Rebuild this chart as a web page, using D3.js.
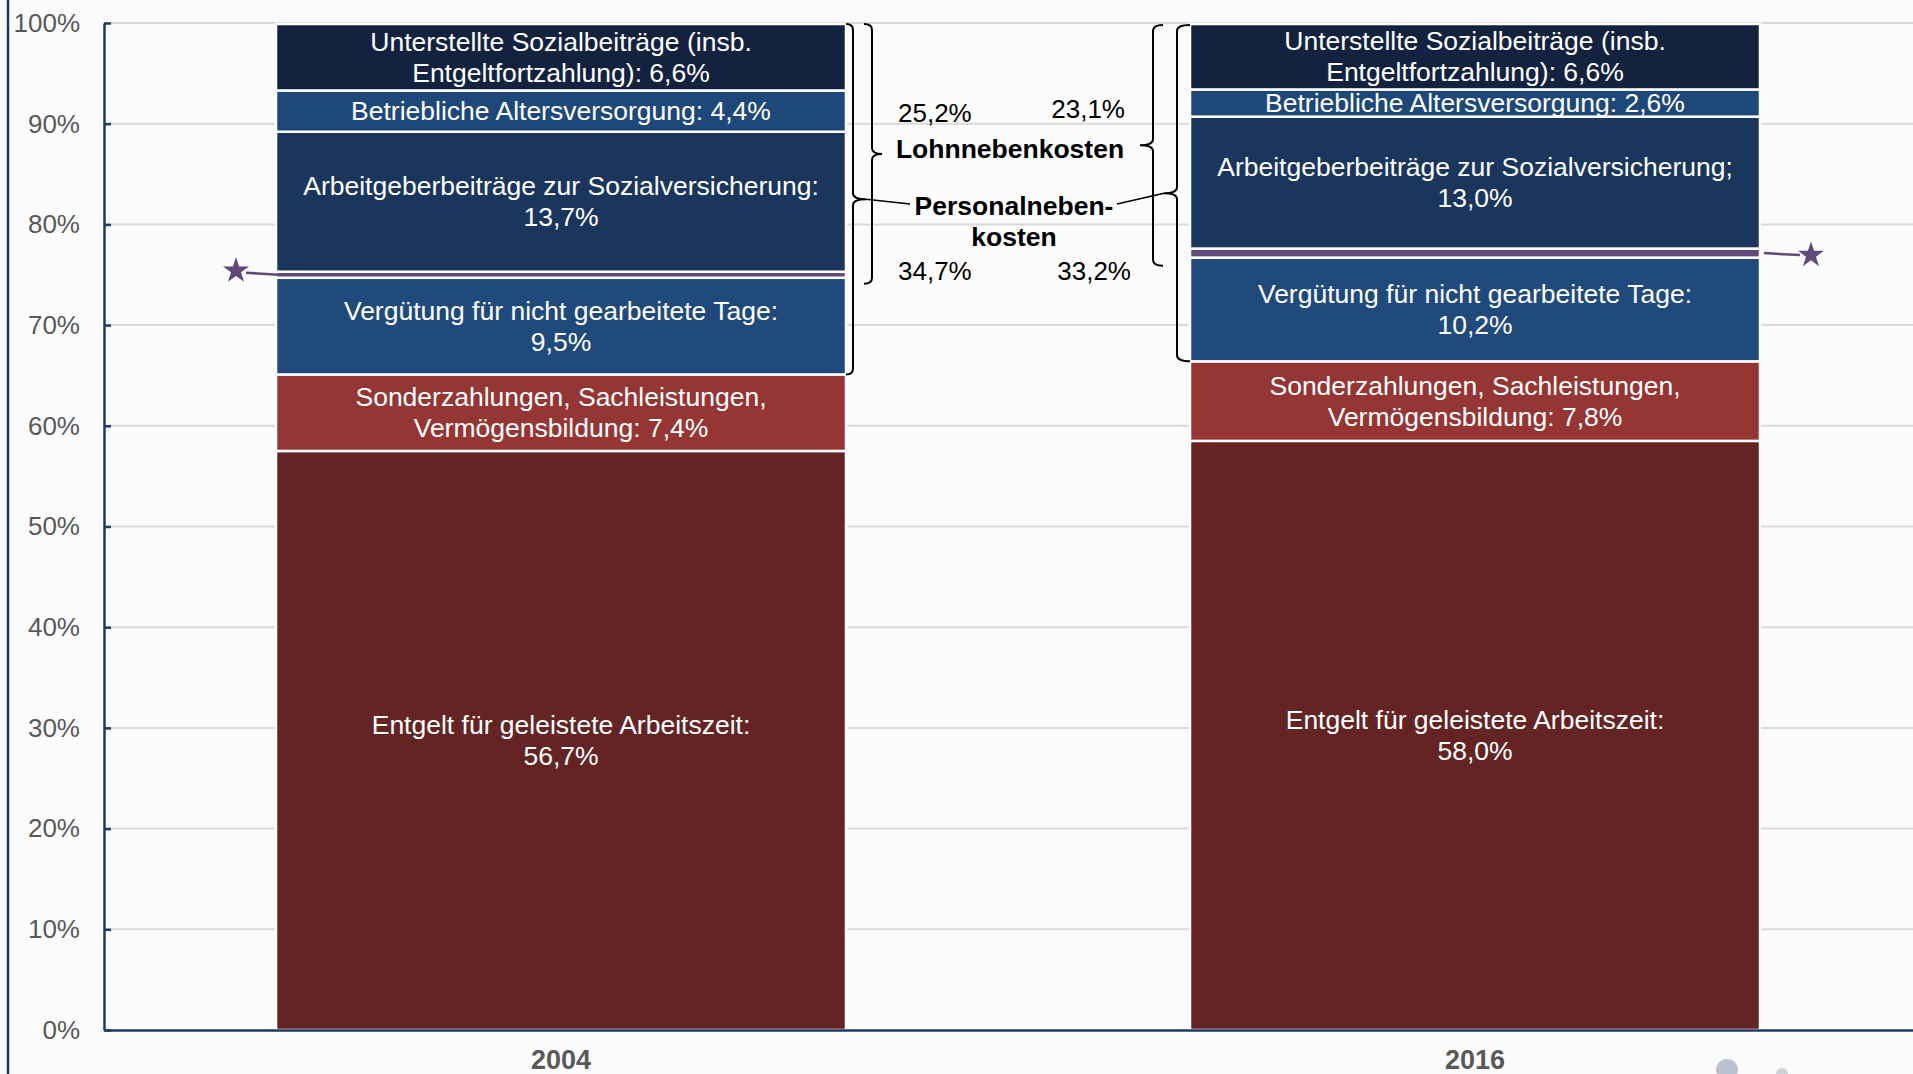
<!DOCTYPE html>
<html>
<head>
<meta charset="utf-8">
<script src="https://cdn.jsdelivr.net/npm/d3@7"></script>
<style>
  body { margin: 0; background: #fbfbfb; }
  svg { display: block; font-family: "Liberation Sans", Arial, sans-serif; }
</style>
</head>
<body>
<svg></svg>
<script>
var years = ["2004", "2016"];

// stacked from bottom to top
var parts = ["entgelt", "sonder", "verguetung", "sonstige", "arbeitgeber", "betrieblich", "unterstellt"];
var values2004 = [57.5, 7.6, 9.6, 0.6, 13.9, 4.1, 6.6];
var values2016 = [58.5, 7.9, 10.3, 0.9, 13.1, 2.7, 6.5];

var labels2004 = [
  ["Entgelt für geleistete Arbeitszeit:", "56,7%"],
  ["Sonderzahlungen, Sachleistungen,", "Vermögensbildung: 7,4%"],
  ["Vergütung für nicht gearbeitete Tage:", "9,5%"],
  [],
  ["Arbeitgeberbeiträge zur Sozialversicherung:", "13,7%"],
  ["Betriebliche Altersversorgung: 4,4%"],
  ["Unterstellte Sozialbeiträge (insb.", "Entgeltfortzahlung): 6,6%"]
];
var labels2016 = [
  ["Entgelt für geleistete Arbeitszeit:", "58,0%"],
  ["Sonderzahlungen, Sachleistungen,", "Vermögensbildung: 7,8%"],
  ["Vergütung für nicht gearbeitete Tage:", "10,2%"],
  [],
  ["Arbeitgeberbeiträge zur Sozialversicherung;", "13,0%"],
  ["Betriebliche Altersversorgung: 2,6%"],
  ["Unterstellte Sozialbeiträge (insb.", "Entgeltfortzahlung): 6,6%"]
];

var yTicks = [0, 10, 20, 30, 40, 50, 60, 70, 80, 90, 100];
var lohnNK = ["25,2%", "23,1%"];
var personalNK = ["34,7%", "33,2%"];

var colors = ["#632423", "#963634", "#214a7c", "#604a7b", "#1a365d", "#1f487a", "#13233f"];

var width = 1913;
var height = 1074;

var svg = d3.select("svg")
  .attr("width", width)
  .attr("height", height);

svg.append("rect")
  .attr("width", width)
  .attr("height", height)
  .attr("fill", "#fbfbfb");

var x = d3.scaleBand()
  .domain(years)
  .range([104, 1932])
  .paddingInner(0.3764)
  .paddingOuter(0.1882);

var y = d3.scaleLinear()
  .domain([0, 100])
  .range([1030, 23]);

var table = years.map(function(yr, i) {
  var vals = i === 0 ? values2004 : values2016;
  var row = { year: yr };
  parts.forEach(function(p, j) { row[p] = vals[j]; });
  return row;
});
var labels = [labels2004, labels2016];

var series = d3.stack().keys(parts)(table);

// outer frame line on the left
svg.append("line")
  .attr("x1", 8).attr("x2", 8)
  .attr("y1", 0).attr("y2", height)
  .attr("stroke", "#1f3864")
  .attr("stroke-width", 2.5);

// gridlines
svg.append("g")
  .selectAll("line")
  .data(yTicks.filter(function(d) { return d > 0; }))
  .enter()
  .append("line")
    .attr("x1", 104).attr("x2", width)
    .attr("y1", function(d) { return y(d); })
    .attr("y2", function(d) { return y(d); })
    .attr("stroke", "#d9d9d9")
    .attr("stroke-width", 2);

// bars
var layer = svg.append("g")
  .selectAll("g")
  .data(series)
  .enter()
  .append("g")
    .attr("fill", function(d, i) { return colors[i]; });

layer.selectAll("rect")
  .data(function(d) { return d; })
  .enter()
  .append("rect")
    .attr("x", function(d) { return x(d.data.year); })
    .attr("y", function(d) { return y(d[1]); })
    .attr("width", x.bandwidth())
    .attr("height", function(d) { return y(d[0]) - y(d[1]); })
    .attr("stroke", "#ffffff")
    .attr("stroke-width", 2.5);

// labels inside segments
var lineH = 31;
series.forEach(function(s, si) {
  s.forEach(function(d, yi) {
    var lines = labels[yi][si];
    if (!lines.length) return;
    var cy = (y(d[0]) + y(d[1])) / 2;
    var t = svg.append("text")
      .attr("text-anchor", "middle")
      .attr("fill", "#ffffff")
      .style("font-size", "26.5px");
    lines.forEach(function(l, li) {
      t.append("tspan")
        .attr("x", x(d.data.year) + x.bandwidth() / 2)
        .attr("y", cy + (li - (lines.length - 1) / 2) * lineH + 9)
        .text(l);
    });
  });
});

// y axis
var yAxis = d3.axisLeft(y)
  .tickValues(yTicks)
  .tickFormat(function(d) { return d + "%"; })
  .tickSizeInner(-7)
  .tickSizeOuter(0)
  .tickPadding(24);

var yg = svg.append("g")
  .attr("transform", "translate(104,0)")
  .call(yAxis);
yg.select(".domain").attr("stroke", "#1f3864").attr("stroke-width", 2.5);
yg.selectAll(".tick line").attr("stroke", "#1f3864").attr("stroke-width", 2.5);
yg.selectAll(".tick text")
  .attr("fill", "#595959")
  .style("font-size", "26px")
  .style("font-family", "'Liberation Sans', Arial, sans-serif");

// x axis
var xAxis = d3.axisBottom(x).tickSize(0).tickPadding(20);
var xg = svg.append("g")
  .attr("transform", "translate(0," + y(0) + ")")
  .call(xAxis);
xg.select(".domain").attr("stroke", "#1f3864").attr("stroke-width", 2.5);
xg.selectAll(".tick text")
  .attr("fill", "#595959")
  .style("font-size", "27px")
  .style("font-weight", "bold")
  .style("font-family", "'Liberation Sans', Arial, sans-serif");

// curly brackets
function brace(xp, y0, y1, dir, tip, hook) {
  var ym = (y0 + y1) / 2;
  return "M" + (xp - hook * dir) + "," + y0 +
    " Q" + xp + "," + y0 + " " + xp + "," + (y0 + 6) +
    " L" + xp + "," + (ym - 6) +
    " Q" + xp + "," + ym + " " + (xp + tip * dir) + "," + ym +
    " Q" + xp + "," + ym + " " + xp + "," + (ym + 6) +
    " L" + xp + "," + (y1 - 6) +
    " Q" + xp + "," + y1 + " " + (xp - hook * dir) + "," + y1;
}

var b1L = x(years[0]);
var b1R = b1L + x.bandwidth();
var b2L = x(years[1]);
var b2R = b2L + x.bandwidth();

// series index: 2 = verguetung (bottom of personal), 3 = sonstige (bottom of lohn)
var top1 = y(series[6][0][1]), top2 = y(series[6][1][1]);
var lohnBot1 = y(series[3][0][0]) + 6, lohnBot2 = y(series[3][1][0]) + 8;
var persBot1 = y(series[2][0][0]), persBot2 = y(series[2][1][0]);

var braces = svg.append("g")
  .attr("fill", "none")
  .attr("stroke", "#000000")
  .attr("stroke-width", 2);

braces.append("path").attr("d", brace(b1R + 7, top1, persBot1, 1, 13, 7));
braces.append("path").attr("d", brace(b1R + 26, top1, lohnBot1, 1, 10, 8));
braces.append("path").attr("d", brace(b2L - 37, top2 + 1, lohnBot2, -1, 13, 10));
braces.append("path").attr("d", brace(b2L - 13, top2 + 1, persBot2, -1, 13, 13));

// connector lines to "Personalneben-kosten"
braces.append("line")
  .attr("x1", b1R + 20).attr("y1", (top1 + persBot1) / 2)
  .attr("x2", 910).attr("y2", 204)
  .attr("stroke-width", 1.6);
braces.append("line")
  .attr("x1", b2L - 26).attr("y1", (top2 + 1 + persBot2) / 2)
  .attr("x2", 1117).attr("y2", 204)
  .attr("stroke-width", 1.6);

// annotation texts between the bars
var ann = svg.append("g")
  .attr("fill", "#000000")
  .style("font-size", "26px");

ann.append("text").attr("x", 898).attr("y", 122).text(lohnNK[0]);
ann.append("text").attr("x", 1125).attr("y", 118).attr("text-anchor", "end").text(lohnNK[1]);
ann.append("text").attr("x", 898).attr("y", 280).text(personalNK[0]);
ann.append("text").attr("x", 1131).attr("y", 280).attr("text-anchor", "end").text(personalNK[1]);

ann.append("text")
  .attr("x", 1010).attr("y", 158)
  .attr("text-anchor", "middle")
  .style("font-weight", "bold")
  .style("font-size", "26.5px")
  .text("Lohnnebenkosten");

var pt = ann.append("text")
  .attr("text-anchor", "middle")
  .style("font-weight", "bold")
  .style("font-size", "26.5px");
pt.append("tspan").attr("x", 1014).attr("y", 215).text("Personalneben-");
pt.append("tspan").attr("x", 1014).attr("y", 246).text("kosten");

// stars marking the small purple segment
var purple1 = (y(series[3][0][0]) + y(series[3][0][1])) / 2;
var purple2 = (y(series[3][1][0]) + y(series[3][1][1])) / 2;
var star = d3.symbol().type(d3.symbolStar).size(210);

svg.append("line")
  .attr("x1", b1L - 30).attr("y1", purple1 - 2)
  .attr("x2", b1L + 2).attr("y2", purple1)
  .attr("stroke", "#604a7b").attr("stroke-width", 2.5);
svg.append("path")
  .attr("d", star())
  .attr("transform", "translate(" + (b1L - 40) + "," + (purple1 - 4) + ")")
  .attr("fill", "#604a7b");

svg.append("line")
  .attr("x1", b2R + 4).attr("y1", purple2)
  .attr("x2", b2R + 40).attr("y2", purple2 + 2)
  .attr("stroke", "#604a7b").attr("stroke-width", 2.5);
svg.append("path")
  .attr("d", star())
  .attr("transform", "translate(" + (b2R + 51) + "," + (purple2 + 2) + ")")
  .attr("fill", "#604a7b");

// faint logo fragment bottom right
svg.append("circle")
  .attr("cx", 1727).attr("cy", 1070).attr("r", 11)
  .attr("fill", "#8696ab").attr("opacity", 0.55);
svg.append("circle")
  .attr("cx", 1782).attr("cy", 1074).attr("r", 6)
  .attr("fill", "#8696ab").attr("opacity", 0.4);
</script>
</body>
</html>
